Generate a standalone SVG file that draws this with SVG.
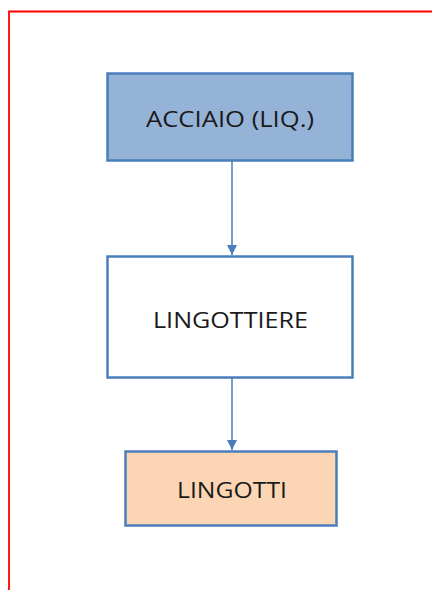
<svg xmlns="http://www.w3.org/2000/svg" width="432" height="590" viewBox="0 0 432 590">
<style>
.box{stroke:#4a7ebb;stroke-width:2.5}
.lbl{font-family:"Open Sans","Liberation Sans",sans-serif;font-size:21px;fill:#1a1a1a;text-anchor:middle}
.conn{stroke:#4a7ebb;stroke-width:1.5;fill:none}
</style>
<defs>
<marker id="arr" viewBox="0 0 10 10" refX="10" refY="5" markerWidth="10" markerHeight="11" markerUnits="userSpaceOnUse" orient="auto">
<path d="M0,0 L10,5 L0,10 Z" fill="#4a7ebb"/>
</marker>
</defs>
<rect width="432" height="590" fill="#ffffff"/>
<path d="M9,590 V11.5 H432" fill="none" stroke="#ff0000" stroke-width="1.8"/>
<g id="connectors">
<line class="conn" x1="232" y1="161" x2="232" y2="255" marker-end="url(#arr)"/>
<line class="conn" x1="232" y1="378" x2="232" y2="450" marker-end="url(#arr)"/>
</g>
<g id="acciaio">
<rect class="box" x="107.5" y="73.5" width="245" height="87" fill="#95b3d7"/>
<text class="lbl" x="230" y="126.5" textLength="168" lengthAdjust="spacingAndGlyphs">ACCIAIO (LIQ.)</text>
</g>
<g id="lingottiere">
<rect class="box" x="107.5" y="256.5" width="245" height="121" fill="#ffffff"/>
<text class="lbl" x="230.5" y="328" textLength="155" lengthAdjust="spacingAndGlyphs">LINGOTTIERE</text>
</g>
<g id="lingotti">
<rect class="box" x="125.5" y="451.5" width="211" height="74" fill="#fcd5b4"/>
<text class="lbl" x="232" y="497.5" textLength="110" lengthAdjust="spacingAndGlyphs">LINGOTTI</text>
</g>
</svg>
